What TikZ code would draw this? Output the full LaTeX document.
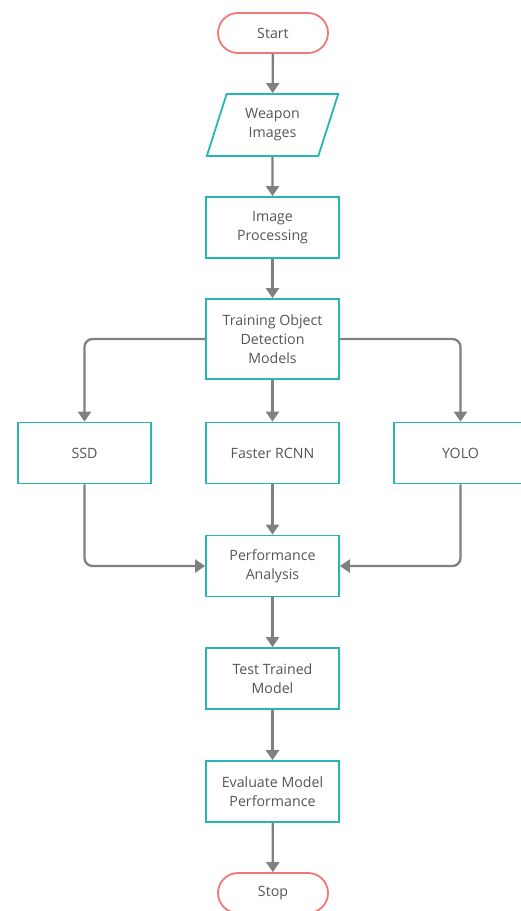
\documentclass[tikz,border=0pt]{standalone}
\usepackage{fontspec}
\setmainfont{Open Sans}
\usetikzlibrary{arrows.meta,shapes.geometric}
\definecolor{teal1}{RGB}{38,183,176}
\definecolor{red1}{RGB}{240,120,120}
\definecolor{gray1}{RGB}{128,128,128}
\definecolor{txt}{RGB}{85,85,85}
\begin{document}
\begin{tikzpicture}[x=1pt,y=-1pt,
  box/.style={draw=teal1,line width=1.8pt,minimum width=133pt,minimum height=61pt,inner sep=0pt,align=center,text=txt,font=\fontsize{14.2}{19}\selectfont},
  term/.style={draw=red1,line width=1.8pt,rounded corners=20pt,minimum width=110pt,minimum height=40pt,inner sep=0pt,text=txt,font=\fontsize{14.2}{19}\selectfont},
  io/.style={draw=teal1,line width=1.8pt,trapezium,trapezium left angle=70,trapezium right angle=110,minimum width=110pt,minimum height=62pt,inner sep=0pt,trapezium stretches=true,align=center,text=txt,font=\fontsize{14.2}{19}\selectfont},
  conn/.style={draw=gray1,line width=2.3pt,rounded corners=8pt,-{Triangle[width=13pt,length=10pt]}}]
\useasboundingbox (0,0) rectangle (521,911);
\node[term] (start) at (273,33) {Start};
\node[io,minimum width=132pt] (weapon) at (272.5,125) {Weapon\\Images};
\node[box] (improc) at (272.5,227.5) {Image\\Processing};
\node[box,minimum height=80pt] (train) at (272.5,339) {Training Object\\Detection\\Models};
\node[box] (ssd) at (84.5,453) {SSD};
\node[box] (frcnn) at (272.5,453) {Faster RCNN};
\node[box] (yolo) at (460.5,453) {YOLO};
\node[box] (perf) at (272.5,566) {Performance\\Analysis};
\node[box] (test) at (272.5,678.5) {Test Trained\\Model};
\node[box] (eval) at (272.5,791.5) {Evaluate Model\\Performance};
\node[term] (stop) at (273,893) {Stop};
\draw[conn] (start) -- (weapon);
\draw[conn] (weapon) -- (improc);
\draw[conn] (improc) -- (train);
\draw[conn] (train.west) -| (ssd.north);
\draw[conn] (train) -- (frcnn);
\draw[conn] (train.east) -| (yolo.north);
\draw[conn] (ssd.south) |- (perf.west);
\draw[conn] (frcnn) -- (perf);
\draw[conn] (yolo.south) |- (perf.east);
\draw[conn] (perf) -- (test);
\draw[conn] (test) -- (eval);
\draw[conn] (eval) -- (stop);
\end{tikzpicture}
\end{document}
